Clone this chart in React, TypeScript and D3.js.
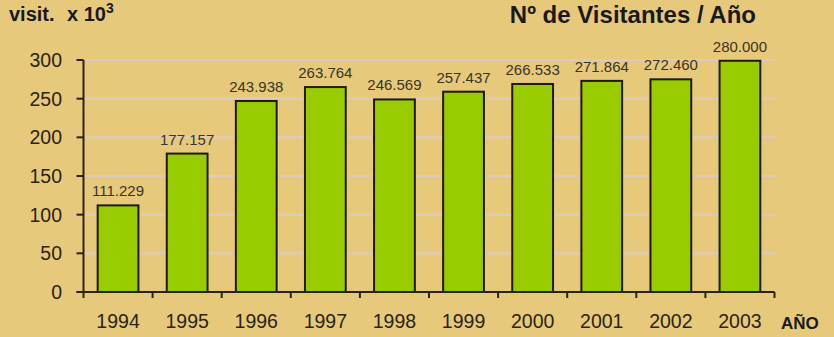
import React from "react";
import * as d3 from "d3";

const years = ["1994", "1995", "1996", "1997", "1998", "1999", "2000", "2001", "2002", "2003"];
const barValues = [112, 179, 247, 265, 249, 259, 269, 273, 275, 299];
const valueLabels = ["111.229", "177.157", "243.938", "263.764", "246.569", "257.437", "266.533", "271.864", "272.460", "280.000"];
const yTicks = [0, 50, 100, 150, 200, 250, 300];

const W = 834;
const H = 337;
const left = 83.5;
const right = 774.5;
const top = 60;
const bottom = 292;

export default function App() {
  const x = d3.scaleBand<string>().domain(years).range([left, right]).paddingInner(0.41).paddingOuter(0.205);
  const xb = d3.scaleBand<string>().domain(years).range([left, right]);
  const y = d3.scaleLinear().domain([0, 300]).range([bottom, top]);
  const font = "Arial, 'Liberation Sans', Helvetica, sans-serif";
  const dark = "#2b2414";
  const boundaries = [left, ...years.map((d) => (xb(d) as number) + xb.bandwidth())];

  return (
    <svg width={W} height={H} style={{ position: "absolute", left: 0, top: 0, display: "block" }} fontFamily={font}>
      <rect x={0} y={0} width={W} height={H} fill="#E7C97C" />
      {yTicks.filter((t) => t > 0).map((t) => (
        <line key={t} x1={left} x2={right} y1={y(t)} y2={y(t)} stroke="#DCCBBC" strokeWidth={2.2} />
      ))}
      {years.map((yr, i) => (
        <rect
          key={yr}
          x={x(yr)}
          y={y(barValues[i])}
          width={x.bandwidth()}
          height={bottom - y(barValues[i])}
          fill="#99CC00"
          stroke="#1f1a0c"
          strokeWidth={2}
        />
      ))}
      {years.map((yr, i) => (
        <text
          key={yr}
          x={(x(yr) as number) + x.bandwidth() / 2}
          y={y(barValues[i]) - 9}
          textAnchor="middle"
          fontSize={15}
          fill="#3a3424"
        >
          {valueLabels[i]}
        </text>
      ))}
      <line x1={left} x2={left} y1={top} y2={bottom} stroke={dark} strokeWidth={2} />
      {yTicks.map((t) => (
        <g key={t}>
          <line x1={left - 7} x2={left} y1={y(t)} y2={y(t)} stroke={dark} strokeWidth={2} />
          <text x={62} y={y(t)} dy="0.36em" textAnchor="end" fontSize={19.5} fill={dark}>
            {t}
          </text>
        </g>
      ))}
      <line x1={left - 7} x2={right} y1={bottom} y2={bottom} stroke={dark} strokeWidth={2} />
      {boundaries.map((b, i) => (
        <line key={i} x1={b} x2={b} y1={bottom} y2={bottom + 6} stroke={dark} strokeWidth={2} />
      ))}
      {years.map((yr) => (
        <text key={yr} x={(xb(yr) as number) + xb.bandwidth() / 2} y={328} textAnchor="middle" fontSize={19.5} fill={dark}>
          {yr}
        </text>
      ))}
      <text x={781} y={329} fontSize={17} fontWeight="bold" fill="#1a1a1a">AÑO</text>
      <text y={21} fontSize={20} fontWeight="bold" fill="#1a1a1a">
        <tspan x={9}>visit.</tspan>
        <tspan x={67}>x 10</tspan>
        <tspan fontSize={14} dy={-8}>3</tspan>
      </text>
      <text x={756} y={23} textAnchor="end" fontSize={24} fontWeight="bold" fill="#1a1a1a">
        Nº de Visitantes / Año
      </text>
    </svg>
  );
}
